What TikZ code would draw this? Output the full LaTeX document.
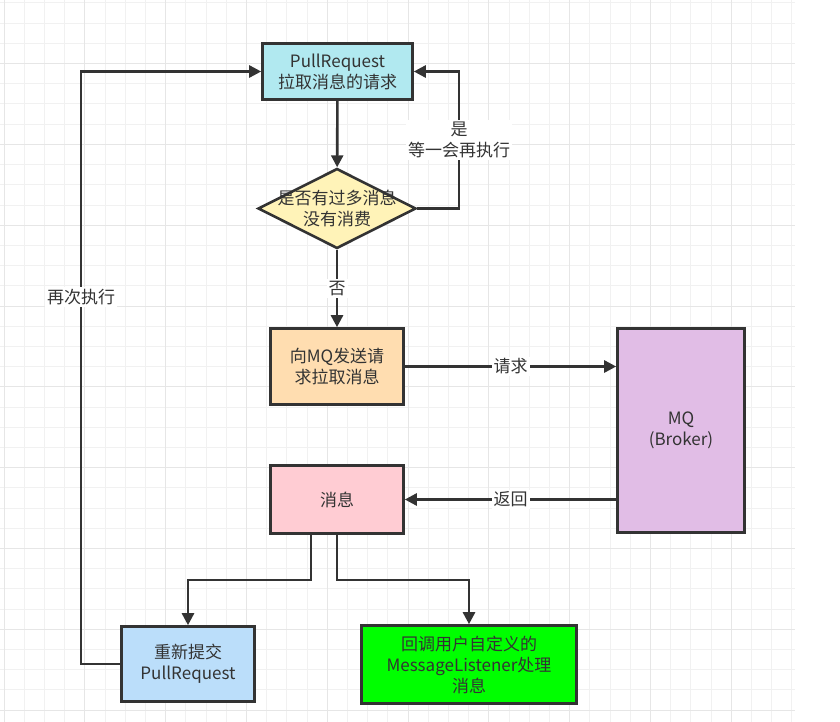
\documentclass[tikz,border=0pt]{standalone}
\usepackage{fontspec}
\setmainfont{Noto Sans CJK SC}
\usetikzlibrary{arrows.meta, shapes.geometric, calc}

\definecolor{ink}{HTML}{333333}
\definecolor{gridminor}{HTML}{F1F1F1}
\definecolor{gridmajor}{HTML}{E6E6E6}
\definecolor{reqcyan}{HTML}{B1E9F0}
\definecolor{checkyellow}{HTML}{FFF3B8}
\definecolor{sendorange}{HTML}{FFDDB0}
\definecolor{mqpurple}{HTML}{E1BDE6}
\definecolor{msgpink}{HTML}{FFCCD3}
\definecolor{resubblue}{HTML}{BBDEFA}
\definecolor{cbgreen}{HTML}{00FF00}
\newcommand\flowfont{\fontsize{17}{21}\selectfont}

\begin{document}
\begin{tikzpicture}[
    x=1pt, y=-1pt,
    >={Triangle[length=12pt, width=12pt]},
    box/.style={draw=ink, line width=2.6pt, text=ink, align=center,
                inner sep=2pt, font=\flowfont},
    decision/.style={diamond, draw=ink, line width=2.6pt, fill=checkyellow,
                     minimum width=158pt, minimum height=80pt, inner sep=0pt},
    flow/.style={->, draw=ink, line width=2.6pt},
    lbl/.style={fill=white, text=ink, font=\flowfont, inner sep=2pt, align=center}
  ]
  \useasboundingbox (0,0) rectangle (840,722);

  % background grid
  \foreach \i in {0,...,39}
    \draw[gridminor, line width=1pt] ({4+20.2*\i},0) -- ({4+20.2*\i},722);
  \foreach \j in {0,...,35}
    \draw[gridminor, line width=1pt] (0,{3+20.2*\j}) -- (795,{3+20.2*\j});
  \foreach \i in {0,4,...,36}
    \draw[gridmajor, line width=1pt] ({4+20.2*\i},0) -- ({4+20.2*\i},722);
  \foreach \j in {3,7,...,35}
    \draw[gridmajor, line width=1pt] (0,{3+20.2*\j}) -- (795,{3+20.2*\j});

  \node[box, fill=reqcyan, minimum width=150pt, minimum height=56pt] (pullreq)
    at (337.5,71.5) {PullRequest\\拉取消息的请求};
  \node[decision, label={[align=center, text=ink, font=\flowfont]center:是否有过多消息\\没有消费}]
    (check) at (337,208.5) {};
  \node[box, fill=sendorange, minimum width=133pt, minimum height=76pt] (sendreq)
    at (337,366.5) {向MQ发送请\\求拉取消息};
  \node[box, fill=mqpurple, minimum width=127pt, minimum height=204pt] (mq)
    at (681,430.5) {MQ\\(Broker)};
  \node[box, fill=msgpink, minimum width=133pt, minimum height=68pt] (msg)
    at (337,499.5) {消息};
  \node[box, fill=resubblue, minimum width=133pt, minimum height=75pt] (resubmit)
    at (188,664) {重新提交\\PullRequest};
  \node[box, fill=cbgreen, minimum width=215pt, minimum height=78pt] (callback)
    at (469,664.5) {回调用户自定义的\\MessageListener处理\\消息};

  \coordinate (waitturn) at (459,71.5);
  \coordinate (retry) at (81,71.5);

  \draw[flow] (pullreq) -- (check);
  \draw[flow] (check.east) -| node[lbl, pos=0.75] {是\\等一会再执行} (waitturn) -- (pullreq.east);
  \draw[flow] (check) -- node[lbl] {否} (sendreq);
  \draw[flow] (sendreq.east) -- node[lbl] {请求} (sendreq.east -| mq.west);
  \draw[flow] (msg.east -| mq.west) -- node[lbl] {返回} (msg.east);
  \draw[flow] ([xshift=-26pt]msg.south) -- ++(0,45) -| (resubmit.north);
  \draw[flow] (msg.south) -- ++(0,45) -| (callback.north);
  \draw[flow] (resubmit.west) -| node[lbl, pos=0.81] {再次执行} (retry) -- (pullreq.west);
\end{tikzpicture}
\end{document}
